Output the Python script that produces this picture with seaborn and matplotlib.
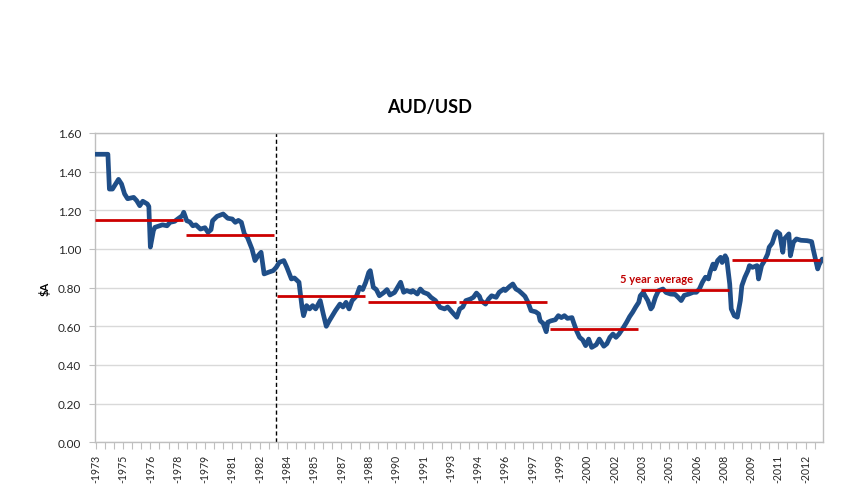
import matplotlib
matplotlib.use("Agg")
import matplotlib.pyplot as plt
import seaborn as sns
import pandas as pd
import numpy as np

# ---- data (month index, monthly categories) ----
month_idx = [0, 8, 9, 11, 15, 17, 19, 21, 25, 27, 29, 31, 34, 35, 36, 38, 39, 42, 44, 47,
             49, 52, 54, 57, 58, 60, 62, 64, 66, 69, 72, 74, 76, 77, 80, 84, 87, 90, 92, 94,
             96, 98, 100, 103, 105, 107, 109, 111, 114, 117, 119, 121, 124, 126, 129, 131, 134, 136, 137, 139,
             141, 143, 145, 148, 150, 152, 154, 158, 161, 163, 165, 167, 169, 172, 174, 176, 178, 180, 181, 183,
             185, 187, 190, 192, 194, 197, 199, 201, 203, 205, 208, 209, 212, 214, 216, 219, 221, 224, 227, 230,
             232, 235, 238, 240, 242, 244, 247, 249, 251, 253, 254, 257, 259, 261, 264, 266, 269, 270, 273, 275,
             277, 279, 281, 283, 285, 287, 290, 292, 293, 295, 297, 298, 300, 303, 305, 307, 309, 311, 314, 315,
             317, 319, 321, 323, 325, 327, 330, 332, 335, 337, 339, 341, 343, 345, 348, 350, 352, 354, 356, 358,
             359, 361, 362, 364, 366, 367, 369, 371, 374, 376, 379, 382, 384, 386, 388, 391, 394, 396, 398, 400,
             402, 404, 405, 407, 408, 410, 412, 413, 415, 416, 418, 419, 421, 423, 425, 426, 428, 430, 431, 433,
             436, 437, 439, 441, 443, 444, 446, 448, 449, 451, 453, 454, 457, 458, 460, 462, 465, 469, 472, 473,
             475, 476, 477, 479]
aud_usd = [1.49, 1.49, 1.31, 1.31, 1.36, 1.336, 1.285, 1.26, 1.267, 1.25, 1.224, 1.247, 1.233, 1.22, 1.01, 1.095, 1.112, 1.12, 1.125, 1.12,
           1.138, 1.143, 1.155, 1.172, 1.19, 1.146, 1.14, 1.12, 1.125, 1.103, 1.11, 1.086, 1.10, 1.146, 1.169, 1.181, 1.159, 1.155, 1.138, 1.148,
           1.138, 1.078, 1.06, 1.0, 0.94, 0.965, 0.983, 0.871, 0.88, 0.888, 0.905, 0.931, 0.94, 0.905, 0.845, 0.85, 0.828, 0.698, 0.655, 0.707,
           0.69, 0.707, 0.69, 0.733, 0.664, 0.60, 0.629, 0.681, 0.715, 0.70, 0.724, 0.69, 0.733, 0.758, 0.802, 0.79, 0.828, 0.879, 0.888, 0.802,
           0.79, 0.758, 0.775, 0.79, 0.762, 0.775, 0.802, 0.828, 0.776, 0.785, 0.776, 0.785, 0.767, 0.793, 0.776, 0.767, 0.75, 0.733, 0.698, 0.69,
           0.70, 0.673, 0.647, 0.69, 0.70, 0.733, 0.741, 0.75, 0.772, 0.755, 0.733, 0.715, 0.741, 0.758, 0.75, 0.776, 0.793, 0.785, 0.807, 0.819,
           0.793, 0.784, 0.77, 0.755, 0.724, 0.681, 0.675, 0.664, 0.629, 0.615, 0.572, 0.621, 0.628, 0.634, 0.655, 0.645, 0.655, 0.641, 0.645, 0.621,
           0.577, 0.543, 0.53, 0.50, 0.534, 0.491, 0.505, 0.534, 0.497, 0.51, 0.543, 0.56, 0.543, 0.56, 0.595, 0.621, 0.65, 0.673, 0.70, 0.724,
           0.758, 0.776, 0.76, 0.733, 0.69, 0.70, 0.75, 0.784, 0.793, 0.775, 0.767, 0.765, 0.75, 0.733, 0.76, 0.767, 0.776, 0.776, 0.793, 0.828,
           0.854, 0.845, 0.879, 0.922, 0.897, 0.94, 0.957, 0.93, 0.965, 0.95, 0.819, 0.69, 0.655, 0.647, 0.733, 0.81, 0.854, 0.888, 0.914, 0.905,
           0.914, 0.845, 0.914, 0.94, 0.974, 1.009, 1.03, 1.078, 1.09, 1.078, 0.983, 1.052, 1.078, 0.965, 1.035, 1.052, 1.045, 1.043, 1.038, 1.0,
           0.931, 0.897, 0.92, 0.948]

tick_months = [0, 18, 36, 54, 72, 90, 108, 126, 144, 162, 180, 198, 216, 234, 252, 270, 288,
               306, 324, 342, 360, 378, 396, 414, 432, 450, 468]
tick_labels = ["-1973", "-1975", "-1976", "-1978", "-1979", "-1981", "-1982",
               "-1984", "-1985", "-1987", "-1988", "-1990", "-1991", "-1993",
               "-1994", "-1996", "-1997", "-1999", "-2000", "-2002", "-2003",
               "-2005", "-2006", "-2008", "-2009", "-2011", "-2012"]

avg_first = [0, 60, 120, 180, 240, 300, 360, 420]
avg_last = [59, 119, 179, 239, 299, 359, 419, 479]
avg_value = [1.152, 1.071, 0.758, 0.727, 0.727, 0.588, 0.790, 0.943]

float_month = 118.8
y_ticks = [0.0, 0.2, 0.4, 0.6, 0.8, 1.0, 1.2, 1.4, 1.6]

title_text = "AUD/USD"
ylabel_text = r"\$A"
annot_text = "5 year average"

# ---- style ----
sns.set_theme(style="white")
plt.rcParams['font.family'] = ['Lato', 'DejaVu Sans']

W, H = 862, 485
fig = plt.figure(figsize=(W / 100, H / 100), dpi=100)
ax = fig.add_axes([95 / W, 1 - 443.3 / H, 728 / W, (443.3 - 134) / H])

df = pd.DataFrame({"month": month_idx, "rate": aud_usd})
sns.lineplot(data=df, x="month", y="rate", ax=ax, color="#1F4E88", linewidth=3.4,
             solid_joinstyle="round", solid_capstyle="round", zorder=3)

ax.hlines(avg_value, [f - 0.5 for f in avg_first], [l - 1.5 for l in avg_last],
          colors="#CC0000", linewidth=2.0, zorder=4)

ax.axvline(float_month, color="black", linewidth=1.0, linestyle=(0, (3, 2)), zorder=2)

ax.text(370, 0.845, annot_text, color="#C00000", fontsize=8, fontweight="bold",
        ha="center", va="center", zorder=5)

ax.set_xlim(-0.5, 479.5)
ax.set_ylim(0, 1.6)
ax.set_yticks(y_ticks)
ax.set_yticklabels([f"{v:.2f}" for v in y_ticks])
ax.set_xticks(tick_months)
ax.set_xticklabels(tick_labels, rotation=90)
ax.set_xticks(np.arange(0, 480, 6), minor=True)

ax.set_xlabel("")
ax.set_ylabel("")
ax.yaxis.grid(True, color="#D9D9D9", linewidth=1.0)
ax.xaxis.grid(False)
ax.set_axisbelow(True)

for s in ax.spines.values():
    s.set_color("#BFBFBF")
    s.set_linewidth(1.0)

ax.tick_params(axis="x", which="both", direction="out", length=5, width=0.8,
               color="#BFBFBF", bottom=True)
ax.tick_params(axis="x", which="major", labelsize=7.6, labelcolor="#262626", pad=3)
ax.tick_params(axis="y", which="major", direction="out", length=4, width=0.8,
               color="#BFBFBF", left=True, labelsize=8.5, labelcolor="#262626", pad=6)

fig.text(430 / W, 1 - 108 / H, title_text, ha="center", va="center",
         fontsize=13, fontweight="bold", color="black")
fig.text(45 / W, 1 - 289 / H, ylabel_text, ha="center", va="center", rotation=90,
         fontsize=8, fontweight="bold", color="black")

fig.savefig("out.png", dpi=100, facecolor="white")
